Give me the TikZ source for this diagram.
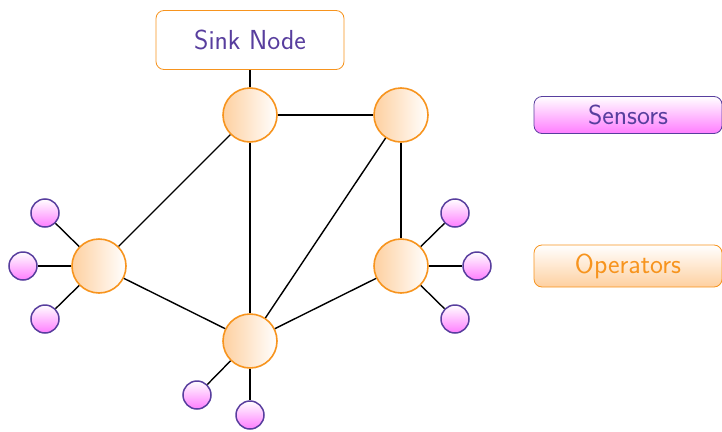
\documentclass[tikz,border=0pt]{standalone}
\usepackage{fontspec}
\begin{document}
\definecolor{myviolet}{RGB}{88,62,158}
\definecolor{myorange}{RGB}{247,148,30}
\definecolor{mypink}{RGB}{255,125,255}
\definecolor{mypeach}{RGB}{254,208,160}
\tikzset{
  op/.style={circle, draw=myorange, line width=1.6pt, minimum size=54pt, inner sep=0pt, left color=mypeach, right color=white},
  sens/.style={circle, draw=myviolet, line width=1.5pt, minimum size=28pt, inner sep=0pt, top color=white, bottom color=mypink},
  link/.style={line width=1.4pt, black},
  lbl/.style={font=\sffamily\fontsize{27.5}{32}\selectfont, rounded corners=8pt, line width=0.8pt, inner sep=0pt},
}
\begin{tikzpicture}[x=1pt,y=-1pt]
\useasboundingbox (0,0) rectangle (722,431);
\node[lbl, draw=myorange, fill=white, text=myviolet, minimum width=188pt, minimum height=59pt] (sink) at (250,40) {Sink Node};
\node[lbl, draw=myviolet, top color=white, bottom color=mypink, text=myviolet, minimum width=188pt, minimum height=37pt] (legs) at (628,115) {Sensors};
\node[lbl, draw=myorange, top color=white, bottom color=mypeach, text=myorange, minimum width=188pt, minimum height=42pt] (lego) at (628,266) {Operators};

\node[op] (a) at (250,115) {};
\node[op] (b) at (401,115) {};
\node[op] (c) at (99,266) {};
\node[op] (d) at (401,266) {};
\node[op] (e) at (250,341) {};

\node[sens] (c1) at (45,213) {};
\node[sens] (c2) at (23,266) {};
\node[sens] (c3) at (45,319) {};
\node[sens] (d1) at (455,213) {};
\node[sens] (d2) at (477,266) {};
\node[sens] (d3) at (455,319) {};
\node[sens] (e1) at (197,395) {};
\node[sens] (e2) at (250,415) {};

\draw[link] (sink) -- (a);
\draw[link] (a) -- (b);
\draw[link] (a) -- (c);
\draw[link] (a) -- (e);
\draw[link] (b) -- (e);
\draw[link] (b) -- (d);
\draw[link] (c) -- (e);
\draw[link] (d) -- (e);
\draw[link] (c) -- (c1);
\draw[link] (c) -- (c2);
\draw[link] (c) -- (c3);
\draw[link] (d) -- (d1);
\draw[link] (d) -- (d2);
\draw[link] (d) -- (d3);
\draw[link] (e) -- (e1);
\draw[link] (e) -- (e2);
\end{tikzpicture}
\end{document}
